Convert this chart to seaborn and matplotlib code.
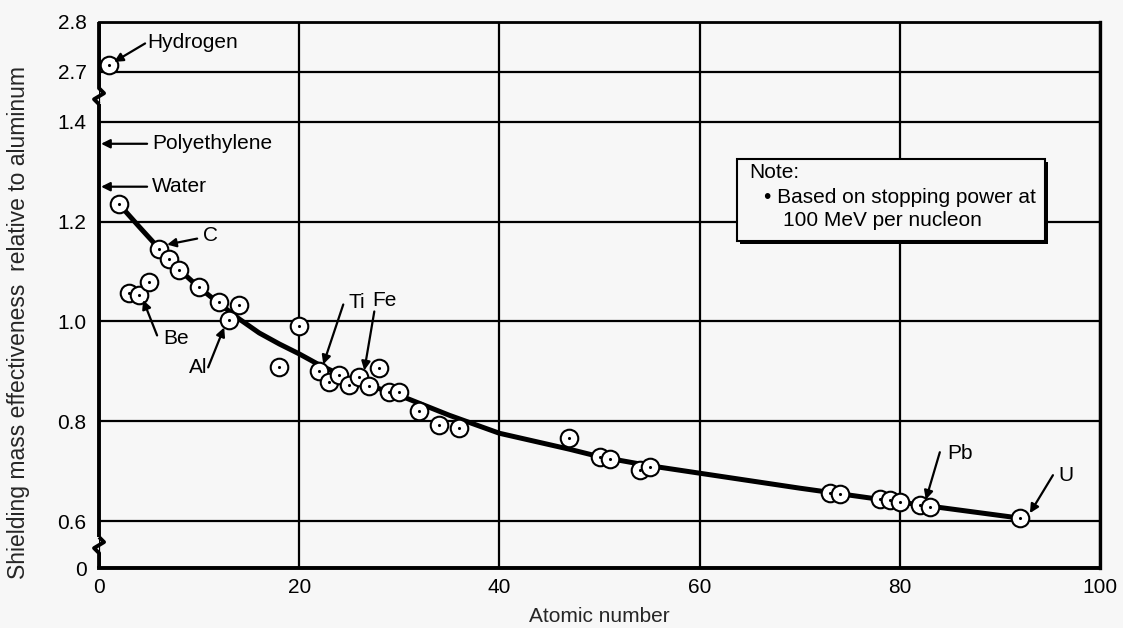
import numpy as np
import pandas as pd
import matplotlib
matplotlib.use("Agg")
import matplotlib.pyplot as plt
import matplotlib.patheffects as pe
from matplotlib.patches import Rectangle
import seaborn as sns

# ---------------- data ----------------
atomic_number = [1, 2, 3, 4, 5, 6, 7, 8, 10, 12, 13, 14, 18, 20, 22, 23, 24, 25, 26, 27,
                 28, 29, 30, 32, 34, 36, 47, 50, 51, 54, 55, 73, 74, 78, 79, 80, 82, 83, 92]
effectiveness = [2.714, 1.235, 1.058, 1.054, 1.080, 1.146, 1.126, 1.104, 1.070, 1.038, 1.002,
                 1.032, 0.908, 0.990, 0.900, 0.878, 0.892, 0.872, 0.888, 0.870, 0.906, 0.858,
                 0.858, 0.820, 0.792, 0.786, 0.766, 0.728, 0.724, 0.702, 0.708, 0.656, 0.654,
                 0.644, 0.642, 0.638, 0.632, 0.628, 0.606]

curve_z = [2, 4, 6, 8, 10, 12, 14, 16, 18, 20, 22, 25, 30, 35, 40, 47, 50, 55, 60, 70, 80, 92]
curve_v = [1.235, 1.190, 1.146, 1.104, 1.068, 1.036, 1.005, 0.977, 0.955, 0.935, 0.913,
           0.885, 0.852, 0.812, 0.776, 0.744, 0.729, 0.711, 0.696, 0.666, 0.638, 0.606]

y_ticks = [0, 0.6, 0.8, 1.0, 1.2, 1.4, 2.7, 2.8]
y_tick_labels = ["0", "0.6", "0.8", "1.0", "1.2", "1.4", "2.7", "2.8"]
x_ticks = [0, 20, 40, 60, 80, 100]

points = pd.DataFrame({"Z": atomic_number, "eff": effectiveness})
curve = pd.DataFrame({"Z": curve_z, "eff": curve_v})

# broken y axis as a piecewise-linear scale
BV = [0.0, 0.6, 1.4, 2.7, 2.8]
BU = [0.0, 47.0, 447.0, 497.0, 547.0]


def fwd(v):
    v = np.asarray(v, dtype=float)
    out = np.interp(v, BV, BU)
    out = np.where(v < 0, v * (47 / 0.6), out)
    out = np.where(v > 2.8, 547 + (v - 2.8) * 500, out)
    return out


def inv(u):
    u = np.asarray(u, dtype=float)
    out = np.interp(u, BU, BV)
    out = np.where(u < 0, u / (47 / 0.6), out)
    out = np.where(u > 547, 2.8 + (u - 547) / 500, out)
    return out


# ---------------- style ----------------
sns.set_style("white")
bg = "#f7f7f7"
plt.rcParams["font.family"] = ["Liberation Sans", "DejaVu Sans"]
plt.rcParams["text.color"] = "black"

fig = plt.figure(figsize=(11.23, 6.28), dpi=100, facecolor=bg)
ax = fig.add_axes([0.0882, 0.0955, 0.8913, 0.8695])
ax.set_facecolor(bg)
ax.set_yscale("function", functions=(fwd, inv))
ax.set_xlim(0, 100)
ax.set_ylim(0, 2.8)

# grid
ax.set_axisbelow(True)
ax.set_yticks(y_ticks)
ax.set_yticklabels(y_tick_labels)
ax.set_xticks(x_ticks)
ax.set_xticklabels([str(t) for t in x_ticks])
ax.grid(True, color="black", linewidth=1.6)
ax.tick_params(axis="both", length=0, labelsize=15, colors="black")
ax.tick_params(axis="y", pad=9)
ax.tick_params(axis="x", pad=7)

# curve and points
sns.lineplot(data=curve, x="Z", y="eff", ax=ax, color="black", linewidth=3.6,
             zorder=3, legend=False)
sns.scatterplot(data=points, x="Z", y="eff", ax=ax, s=160, facecolor="white",
                edgecolor="black", linewidth=1.5, zorder=4, legend=False)
sns.scatterplot(data=points, x="Z", y="eff", ax=ax, s=5, color="black",
                edgecolor="black", linewidth=0, zorder=5, legend=False)

ax.set_xlabel("Atomic number", fontsize=15)
ax.set_ylabel("Shielding mass effectiveness  relative to aluminum", fontsize=16.5)
ax.xaxis.set_label_coords(0.5, -0.071)
ax.yaxis.set_label_coords(-0.069, 0.45)

# spines
for side, lw in [("top", 2.0), ("right", 2.4), ("bottom", 2.8)]:
    ax.spines[side].set_linewidth(lw)
    ax.spines[side].set_color("black")
ax.spines["left"].set_visible(False)

# left spine with zigzag breaks (axes fraction coordinates)
dx = 0.005
dy = 1 / 546.0
top_c = 0.864
bot_c = 0.042
kw = dict(color="black", lw=2.8, transform=ax.transAxes, clip_on=False, zorder=6,
          solid_capstyle="butt")
ax.plot([0, 0, -dx, dx, 0], [0, bot_c - 8 * dy, bot_c - 3 * dy, bot_c + 3 * dy, bot_c + 8 * dy], **kw)
ax.plot([0, 0], [bot_c + 8 * dy, top_c - 8 * dy], **kw)
ax.plot([0, -dx, dx, 0, 0], [top_c - 8 * dy, top_c - 3 * dy, top_c + 3 * dy, top_c + 8 * dy, 1.0], **kw)

# annotations
fs = 15
arrow = dict(arrowstyle="-|>", color="black", lw=1.6, mutation_scale=13, shrinkA=0, shrinkB=0)


def label(txt, tx, ty, ha="left"):
    ax.text(tx, ty, txt, fontsize=fs, ha=ha, va="center", zorder=7)


def arr(x0, y0, x1, y1):
    ax.annotate("", xy=(x1, y1), xytext=(x0, y0), arrowprops=arrow, zorder=7,
                annotation_clip=False)


label("Hydrogen", 4.8, 2.759)
arr(4.6, 2.757, 1.5, 2.72)
label("Polyethylene", 5.3, 1.356)
arr(4.8, 1.356, 0.2, 1.356)
label("Water", 5.3, 1.27)
arr(4.8, 1.27, 0.2, 1.27)
label("C", 10.4, 1.172)
arr(9.8, 1.166, 6.8, 1.154)
label("Be", 6.4, 0.966)
arr(5.8, 0.972, 4.4, 1.043)
label("Al", 10.8, 0.908, ha="right")
arr(10.9, 0.908, 12.5, 0.988)
label("Ti", 24.9, 1.038)
arr(24.4, 1.034, 22.4, 0.914)
label("Fe", 27.3, 1.042)
arr(27.5, 1.02, 26.5, 0.902)
label("Pb", 84.7, 0.736)
arr(84.0, 0.738, 82.6, 0.643)
label("U", 95.8, 0.692)
arr(95.3, 0.692, 93.0, 0.616)

# note box
box = Rectangle((63.7, 1.162), 30.8, 1.326 - 1.162, facecolor=bg, edgecolor="black",
                linewidth=1.5, zorder=6)
box.set_path_effects([pe.SimplePatchShadow(offset=(2.5, -2.5), shadow_rgbFace="black", alpha=1.0),
                      pe.Normal()])
ax.add_patch(box)
ax.text(65.0, 1.298, "Note:", fontsize=fs, ha="left", va="center", zorder=7)
ax.text(66.4, 1.249, "\u2022 Based on stopping power at", fontsize=fs, ha="left", va="center", zorder=7)
ax.text(68.3, 1.202, "100 MeV per nucleon", fontsize=fs, ha="left", va="center", zorder=7)

fig.savefig("out.png", dpi=100, facecolor=bg)
